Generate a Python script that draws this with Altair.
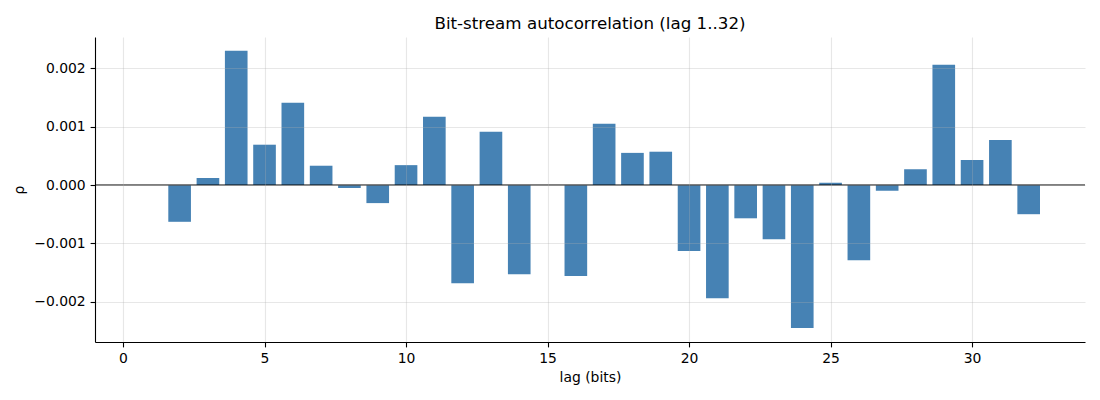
import altair as alt
import pandas as pd

lags = list(range(1, 33))
rho = [
    0.0, -0.00063, 0.00012, 0.00230, 0.00069, 0.00141, 0.00033, -0.00005,
    -0.00031, 0.00034, 0.00117, -0.00168, 0.00091, -0.00153, 0.0, -0.00156,
    0.00105, 0.00055, 0.00057, -0.00113, -0.00194, -0.00057, -0.00093, -0.00245,
    0.00004, -0.00129, -0.00010, 0.00027, 0.00206, 0.00043, 0.00077, -0.00050,
]
x_ticks = [0, 5, 10, 15, 20, 25, 30]
y_ticks = [-0.002, -0.001, 0.0, 0.001, 0.002]

df = pd.DataFrame({"lag": lags, "rho": rho})

W, H = 990, 305
font = "DejaVu Sans"
FS = 13.9

xscale = alt.Scale(domain=[-0.99, 33.99], nice=False, zero=False)
yscale = alt.Scale(domain=[-0.002688, 0.002534], nice=False, zero=False)

common = dict(
    grid=True, gridColor="#b0b0b0", gridOpacity=0.3, gridWidth=1.1,
    domainColor="black", domainWidth=1.1, tickColor="black", tickWidth=1.1,
    tickSize=4.9, labelFontSize=FS, labelColor="black",
    labelFont=font, titleFont=font, titleFontSize=FS, titleFontWeight="normal",
    titleColor="black", zindex=1,
)
xaxis = alt.Axis(values=x_ticks, format="d", title="lag (bits)",
                 labelPadding=4.5, titlePadding=5, **common)
yaxis = alt.Axis(values=y_ticks, format=".3f", title="ρ",
                 labelPadding=4.9, titlePadding=7, **common)

bars = alt.Chart(df).transform_calculate(
    x0="datum.lag - 0.4", x1="datum.lag + 0.4"
).mark_bar(color="#4682b4", opacity=1).encode(
    x=alt.X("x0:Q", scale=xscale, axis=xaxis),
    x2="x1:Q",
    y=alt.Y("rho:Q", scale=yscale, axis=yaxis),
    y2=alt.datum(0),
)

zero = alt.Chart(pd.DataFrame({"z": [0.0]})).mark_rule(
    color="black", strokeWidth=1.1
).encode(
    y=alt.Y("z:Q", scale=yscale),
    x=alt.value(0), x2=alt.value(W),
)

chart = alt.layer(bars, zero).properties(
    width=W, height=H,
    background="white",
    title=alt.TitleParams(
        "Bit-stream autocorrelation (lag 1..32)", font=font, fontSize=16.7,
        fontWeight="normal", color="black", anchor="middle", offset=4,
    ),
    autosize=alt.AutoSizeParams(type="none"),
    padding={"left": 87, "top": 29, "right": 4, "bottom": 45},
).configure_view(stroke=None)

chart.save("out.html", embed_options={"renderer": "svg", "actions": False})
